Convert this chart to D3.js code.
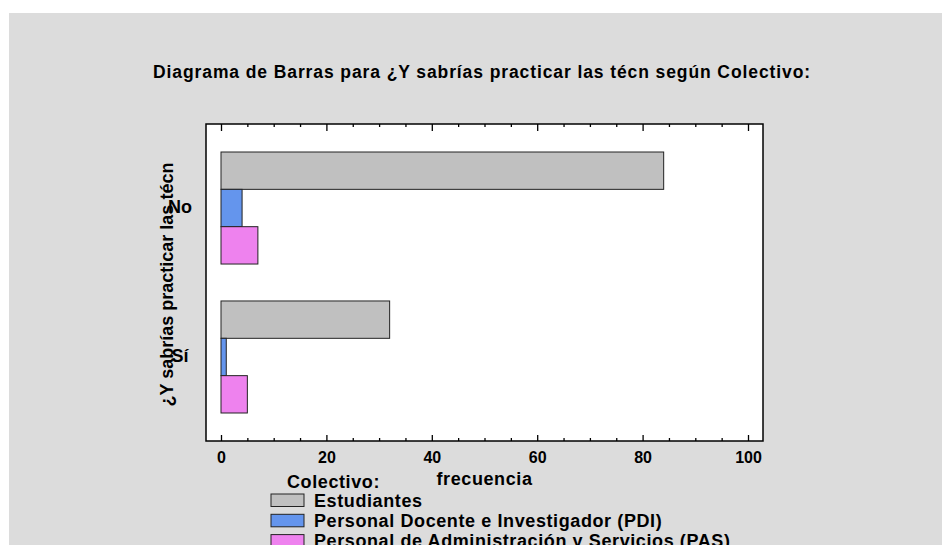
<!DOCTYPE html>
<html><head><meta charset="utf-8">
<script src="https://cdn.jsdelivr.net/npm/d3@7"></script>
<style>body{margin:0;background:#fff}svg{display:block}text{font-family:"Liberation Sans",Arial,sans-serif;font-weight:bold;fill:#000}</style>
</head><body><svg id="c" width="943" height="545"></svg>
<script>
const categories = ["No", "Sí"];
const seriesNames = ["Estudiantes", "Personal Docente e Investigador (PDI)", "Personal de Administración y Servicios (PAS)"];
const estudiantes = [84, 32];
const pdi = [4, 1];
const pas = [7, 5];
const seriesColors = ["#c0c0c0", "#6495ed", "#ee82ee"];
const xTicks = [0, 20, 40, 60, 80, 100];
const titleText = "Diagrama de Barras para ¿Y sabrías practicar las técn según Colectivo:";
const yTitle = "¿Y sabrías practicar las técn";
const xTitle = "frecuencia";
const legendTitle = "Colectivo:";

const seriesValues = [estudiantes, pdi, pas];
const svg = d3.select("#c");
svg.append("rect").attr("x", 9).attr("y", 13).attr("width", 933).attr("height", 532).attr("fill", "#dcdcdc");

const L = 206, T = 124, R = 763, B = 441;
const x = d3.scaleLinear().domain([0, 100]).range([221, 748]);
const y = d3.scaleBand().domain(categories).range([T, B]).paddingInner(0.248).paddingOuter(0.188);
const ys = d3.scaleBand().domain(d3.range(seriesNames.length)).range([0, y.bandwidth()]);

svg.append("rect").attr("x", L).attr("y", T).attr("width", R - L).attr("height", B - T)
  .attr("fill", "#fff").attr("stroke", "#000").attr("stroke-width", 1.5);

// bars
categories.forEach((c, ci) => {
  seriesValues.forEach((vals, si) => {
    svg.append("rect")
      .attr("x", x(0)).attr("y", y(c) + ys(si))
      .attr("width", x(vals[ci]) - x(0)).attr("height", ys.bandwidth())
      .attr("fill", seriesColors[si]).attr("stroke", "#222").attr("stroke-width", 1);
  });
});

// ticks
const minor = d3.range(0, 101, 5).filter(v => v % 20 !== 0);
const axB = svg.append("g").attr("transform", `translate(0,${B})`);
axB.call(d3.axisTop(x).tickValues(xTicks).tickSize(6).tickFormat(""));
axB.append("g").call(d3.axisTop(x).tickValues(minor).tickSize(3).tickFormat(""));
const axT = svg.append("g").attr("transform", `translate(0,${T})`);
axT.call(d3.axisBottom(x).tickValues(xTicks).tickSize(7).tickFormat(""));
axT.append("g").call(d3.axisBottom(x).tickValues(minor).tickSize(3).tickFormat(""));
svg.selectAll(".domain").remove();
svg.selectAll(".tick line").attr("stroke", "#000").attr("stroke-width", 1.3);

// tick labels
const axL = svg.append("g").attr("transform", `translate(0,${B})`);
axL.call(d3.axisBottom(x).tickValues(xTicks).tickSize(0).tickPadding(11).tickFormat(d3.format("d")));
axL.select(".domain").remove();
axL.selectAll("text").attr("font-size", 16).attr("fill", "#000").style("font-family", '"Liberation Sans",Arial,sans-serif').style("font-weight", "bold");

// category labels
const axC = svg.append("g").attr("transform", `translate(180,0)`);
categories.forEach(c => {
  axC.append("text").attr("x", 0).attr("y", y(c) + y.bandwidth() / 2 + 5)
    .attr("text-anchor", "middle").attr("font-size", 18).text(c);
});

// titles
svg.append("text").attr("x", 482).attr("y", 77.5).attr("text-anchor", "middle").attr("font-size", 17.5)
  .attr("letter-spacing", 0.9).text(titleText);
svg.append("text").attr("transform", `translate(173,${(T + B) / 2 + 2}) rotate(-90)`).attr("text-anchor", "middle")
  .attr("font-size", 18).text(yTitle);
svg.append("text").attr("x", (x(0) + x(100)) / 2).attr("y", 485).attr("text-anchor", "middle").attr("font-size", 18)
  .attr("letter-spacing", 0.6).text(xTitle);

// legend
svg.append("text").attr("x", 287).attr("y", 488).attr("font-size", 18).attr("letter-spacing", 0.6).text(legendTitle);
seriesNames.forEach((n, i) => {
  const yy = 494 + i * 20.3;
  svg.append("rect").attr("x", 271).attr("y", yy).attr("width", 33).attr("height", 12.5)
    .attr("fill", seriesColors[i]).attr("stroke", "#222").attr("stroke-width", 1);
  svg.append("text").attr("x", 314).attr("y", yy + 12.5).attr("font-size", 18).attr("letter-spacing", 0.6).text(n);
});
</script></body></html>
